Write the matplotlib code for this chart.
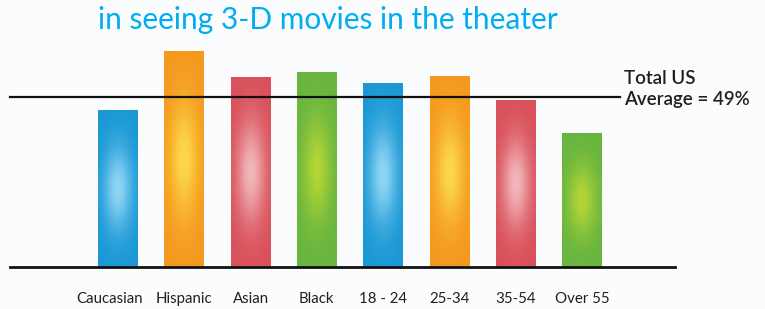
import matplotlib
matplotlib.use("Agg")
import matplotlib.pyplot as plt
import numpy as np
from matplotlib.colors import to_rgb

# data
categories = ["Caucasian", "Hispanic", "Asian", "Black", "18 - 24", "25-34", "35-54", "Over 55"]
values = [45, 62, 54.5, 56, 53, 55, 48, 38.5]
average = 49
title = "in seeing 3-D movies in the theater"
avg_label = "Total US\nAverage = 49%"

# bar colours: base and glow
base_cols = ["#1a98d5", "#f4991f", "#d9505a", "#68b540"] * 2
glow_cols = ["#90d6f5", "#fdd94a", "#f2b8bb", "#b4d535"] * 2

plt.rcParams['font.family'] = ['Lato', 'DejaVu Sans']

fig = plt.figure(figsize=(7.65, 3.09), dpi=100)
fig.patch.set_facecolor("#fbfcfe")
ax = fig.add_axes([0, 0, 1, 1])
ax.set_facecolor("#fbfcfe")
ax.set_xlim(-1.78, 9.76)
ax.set_ylim(-12.1, 77.0)
ax.axis("off")

w = 0.6
u = np.linspace(-1, 1, 60)
t = np.linspace(0, 1, 200)
U, T = np.meshgrid(u, t)
glow = np.exp(-(U / 0.7) ** 2 - ((T - 0.5) / 0.26) ** 2)

for i, v in enumerate(values):
    b = np.array(to_rgb(base_cols[i]))
    g = np.array(to_rgb(glow_cols[i]))
    img = b[None, None, :] * (1 - glow[..., None]) + g[None, None, :] * glow[..., None]
    ax.imshow(img, extent=(i - w / 2, i + w / 2, 0, v), origin="lower",
              aspect="auto", interpolation="bilinear", zorder=2)
    # first label sits a little left of its bar in the original
    lx = i - 0.12 if i == 0 else i
    ax.text(lx, -9.3, categories[i], ha="center", va="center",
            fontsize=10.8, color="#231f20")

ax.axhline(0, xmin=0.013, xmax=0.882, color="#111111", lw=2, zorder=3)
ax.axhline(average, xmin=0.013, xmax=0.81, color="#111111", lw=1.6, zorder=3)

ax.text(7.63, average + 2.3, avg_label, ha="left", va="center",
        fontsize=13.5, color="#231f20", linespacing=1.25, weight="semibold")

fig.text(0.128, 0.935, title, ha="left", va="center",
         fontsize=21.5, color="#00aeef")

fig.savefig("out.png", dpi=100, facecolor=fig.get_facecolor())
